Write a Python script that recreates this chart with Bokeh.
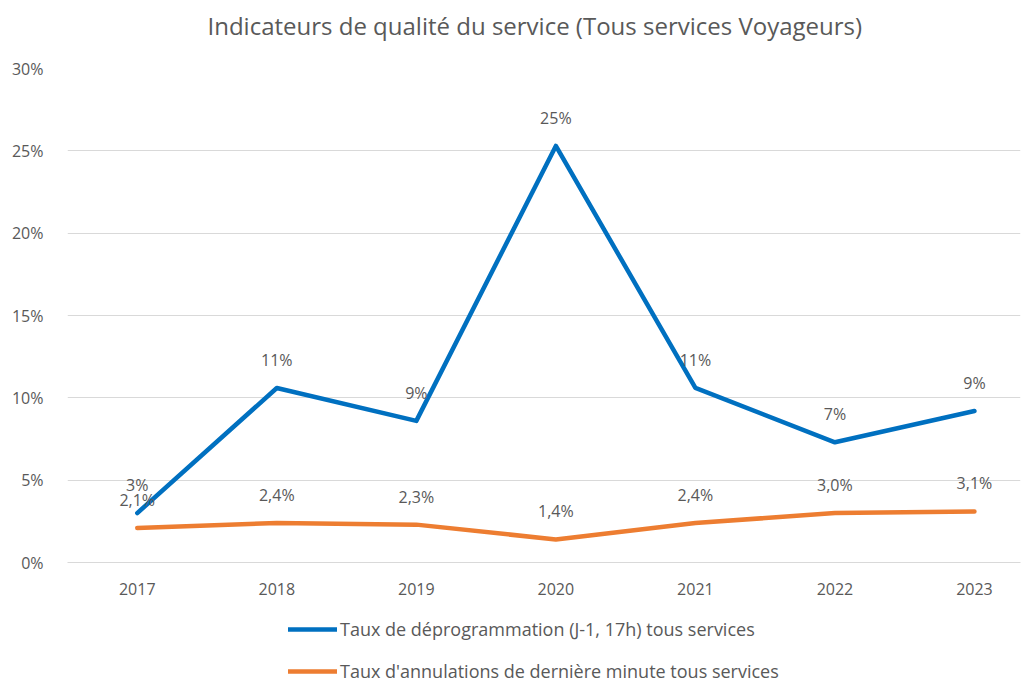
from bokeh.plotting import figure
from bokeh.layouts import column
from bokeh.models import ColumnDataSource, LabelSet, Label, Legend, LegendItem, FixedTicker, Range1d
from bokeh.core.properties import value
from bokeh.embed import file_html
from bokeh.resources import INLINE

years = [2017, 2018, 2019, 2020, 2021, 2022, 2023]
deprog = [3.0, 10.6, 8.6, 25.3, 10.6, 7.3, 9.2]
annul = [2.1, 2.4, 2.3, 1.4, 2.4, 3.0, 3.1]
yticks = [0, 5, 10, 15, 20, 25, 30]
name_deprog = "Taux de déprogrammation (J-1, 17h) tous services"
name_annul = "Taux d'annulations de dernière minute tous services"
title_text = "Indicateurs de qualité du service (Tous services Voyageurs)"

FONT = "Open Sans"
GREY = "#595959"
BLUE = "#0070C0"
ORANGE = "#ED7D31"


def blank(h):
    f = figure(width=1028, height=h, output_backend="svg", toolbar_location=None,
               x_axis_type=None, y_axis_type=None, x_range=Range1d(0, 1), y_range=Range1d(0, 1),
               min_border=0, min_border_left=0, min_border_right=0, min_border_top=0, min_border_bottom=0)
    f.outline_line_color = None
    f.grid.grid_line_color = None
    return f


# title strip
p0 = blank(50)
p0.add_layout(Label(x=140, y=25, x_units="screen", y_units="screen", text=title_text,
                    text_align="left", text_baseline="middle",
                    text_font=FONT, text_font_size="24px", text_color=GREY))

p = figure(width=1028, height=550, output_backend="svg", toolbar_location=None,
           x_range=Range1d(2016.5, 2023.33), y_range=Range1d(0, 30),
           min_border_left=67, min_border_right=8, min_border_top=18, min_border_bottom=38)

p.outline_line_color = None
p.xgrid.grid_line_color = None
p.ygrid.grid_line_color = "#D9D9D9"
p.ygrid.grid_line_width = 1
for ax in (p.xaxis, p.yaxis):
    ax.axis_line_color = None
    ax.major_tick_line_color = None
    ax.minor_tick_line_color = None
    ax.major_label_text_font = FONT
    ax.major_label_text_font_size = "16px"
    ax.major_label_text_color = GREY
p.xaxis.axis_line_color = "#D9D9D9"
p.xaxis.ticker = FixedTicker(ticks=years)
p.xaxis.major_label_standoff = 14
p.yaxis.ticker = FixedTicker(ticks=yticks)
p.yaxis.major_label_overrides = {t: f"{t}%" for t in yticks}
p.yaxis.major_label_standoff = 18

src = ColumnDataSource(dict(
    x=years, d=deprog, a=annul,
    dl=[f"{round(v)}%" for v in deprog],
    al=[f"{v:.1f}%".replace(".", ",") for v in annul],
))
p.line("x", "d", source=src, line_color=BLUE, line_width=4.5, line_cap="round", line_join="round")
p.line("x", "a", source=src, line_color=ORANGE, line_width=4.5, line_cap="round", line_join="round")

for col, lab in (("d", "dl"), ("a", "al")):
    p.add_layout(LabelSet(x="x", y=col, text=lab, source=src, y_offset=28,
                          text_align="center", text_baseline="middle",
                          text_font=value(FONT), text_font_size=value("16px"), text_color=GREY))

# legend strip below the chart (its renderers sit off the visible range)
p2 = blank(82)
l1 = p2.line(x=[5, 6], y=[5, 6], line_color=BLUE, line_width=4.5, line_cap="round")
l2 = p2.line(x=[5, 6], y=[5, 6], line_color=ORANGE, line_width=4.5, line_cap="round")
legend = Legend(items=[LegendItem(label=name_deprog, renderers=[l1]),
                       LegendItem(label=name_annul, renderers=[l2])],
                orientation="vertical", location=(221, -1),
                label_text_font=FONT, label_text_font_size="18px", label_text_color=GREY,
                glyph_width=49, glyph_height=20, label_height=20, label_standoff=3, spacing=18,
                border_line_color=None, background_fill_alpha=0, margin=0, padding=0)
p2.add_layout(legend, "center")

open("out.html", "w").write(file_html(column(p0, p, p2, spacing=0), INLINE))
